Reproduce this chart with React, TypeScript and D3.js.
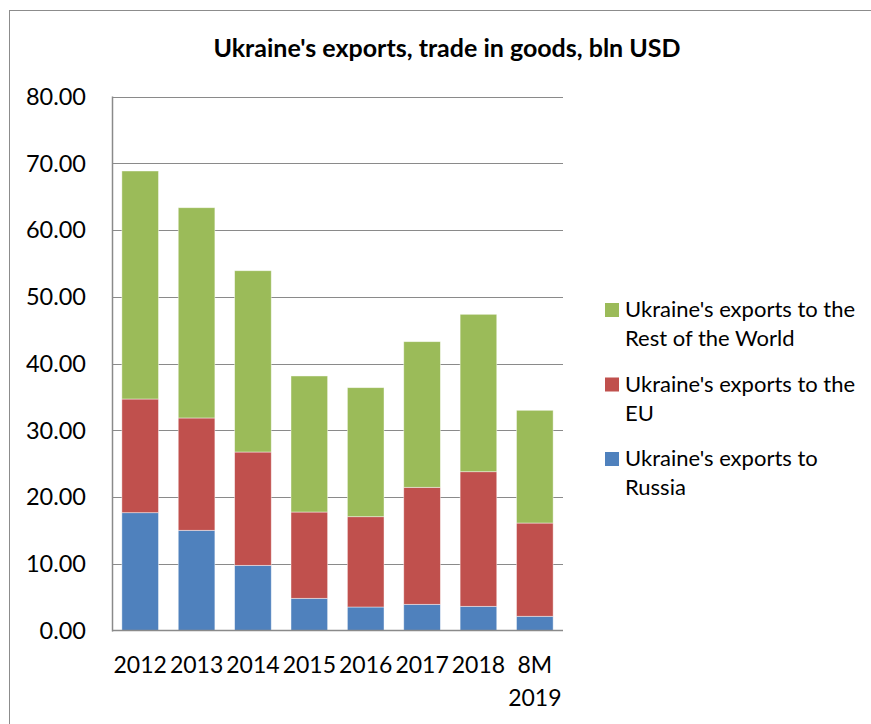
import React, { useEffect, useRef } from 'react';
import * as d3 from 'd3';

const categories = ['2012', '2013', '2014', '2015', '2016', '2017', '2018', '8M 2019'];
const russia = [17.65, 15.01, 9.76, 4.82, 3.52, 3.92, 3.62, 2.13];
const eu = [17.03, 16.83, 16.98, 12.93, 13.53, 17.53, 20.17, 13.97];
const restOfWorld = [34.16, 31.5, 27.16, 20.38, 19.33, 21.82, 23.58, 16.89];
const yTicks = [0, 10, 20, 30, 40, 50, 60, 70, 80];

const seriesKeys = ['russia', 'eu', 'row'];
const seriesColors: Record<string, string> = { russia: '#4F81BD', eu: '#C0504D', row: '#9BBB59' };
const legendItems = [
    { key: 'row', lines: ["Ukraine's exports to the", 'Rest of the World'] },
    { key: 'eu', lines: ["Ukraine's exports to the", 'EU'] },
    { key: 'russia', lines: ["Ukraine's exports to", 'Russia'] },
];

const FONT = 'Lato, "Open Sans", sans-serif';

const App: React.FC = () => {
    const svgRef = useRef<SVGSVGElement>(null);

    useEffect(() => {
        if (!svgRef.current) return;
        const width = 871;
        const height = 724;
        const svg = d3.select(svgRef.current);
        svg.selectAll('*').remove();

        // chart frame
        svg.append('rect')
            .attr('x', 9.5).attr('y', 10.5)
            .attr('width', 870).attr('height', 730)
            .attr('fill', 'white')
            .attr('stroke', '#8c8c8c');

        const plot = { left: 112, right: 563, top: 96.5, bottom: 630.5 };

        const x = d3.scaleBand<string>()
            .domain(categories)
            .range([plot.left, plot.right])
            .paddingInner(0.35)
            .paddingOuter(0.175);

        const y = d3.scaleLinear().domain([0, 80]).range([plot.bottom, plot.top]);

        // gridlines
        svg.append('g')
            .selectAll('line')
            .data(yTicks.filter(t => t > 0))
            .enter()
            .append('line')
            .attr('x1', plot.left).attr('x2', plot.right)
            .attr('y1', d => Math.round(y(d)) + 0.5).attr('y2', d => Math.round(y(d)) + 0.5)
            .attr('stroke', '#8a8a8a')
            .attr('stroke-width', 1.2);

        // stacked bars
        const table = categories.map((c, i) => ({ cat: c, russia: russia[i], eu: eu[i], row: restOfWorld[i] }));
        const stacked = d3.stack<any>().keys(seriesKeys)(table);

        svg.append('g')
            .selectAll('g')
            .data(stacked)
            .enter()
            .append('g')
            .attr('fill', d => seriesColors[d.key])
            .selectAll('rect')
            .data(d => d)
            .enter()
            .append('rect')
            .attr('x', (d: any) => x(d.data.cat) || 0)
            .attr('width', x.bandwidth())
            .attr('y', d => y(d[1]))
            .attr('height', d => y(d[0]) - y(d[1]))
            .attr('stroke', 'rgba(255,255,255,0.55)')
            .attr('stroke-width', 0.8);

        // axes lines
        svg.append('line')
            .attr('x1', plot.left + 0.5).attr('x2', plot.left + 0.5)
            .attr('y1', plot.top).attr('y2', plot.bottom + 1)
            .attr('stroke', '#8a8a8a').attr('stroke-width', 1.5);
        svg.append('line')
            .attr('x1', plot.left).attr('x2', plot.right)
            .attr('y1', plot.bottom).attr('y2', plot.bottom)
            .attr('stroke', '#8a8a8a').attr('stroke-width', 1.5);

        // y tick labels
        svg.append('g')
            .selectAll('text')
            .data(yTicks)
            .enter()
            .append('text')
            .attr('x', 86)
            .attr('y', d => y(d))
            .attr('dy', '0.36em')
            .attr('text-anchor', 'end')
            .style('font-family', FONT)
            .style('font-size', '23.5px')
            .attr('fill', '#000')
            .text(d => d3.format('.2f')(d));

        // x labels
        const xl = svg.append('g')
            .selectAll('text')
            .data(categories)
            .enter()
            .append('text')
            .attr('x', d => (x(d) || 0) + x.bandwidth() / 2)
            .attr('y', 673)
            .attr('text-anchor', 'middle')
            .style('font-family', FONT)
            .style('font-size', '23px')
            .attr('fill', '#000');
        xl.each(function (d) {
            const parts = d.split(' ');
            const t = d3.select(this);
            parts.forEach((p, i) => {
                t.append('tspan')
                    .attr('x', (x(d) || 0) + x.bandwidth() / 2)
                    .attr('dy', i === 0 ? 0 : 33)
                    .text(p);
            });
        });

        // title
        svg.append('text')
            .attr('x', 447)
            .attr('y', 57)
            .attr('text-anchor', 'middle')
            .style('font-family', FONT)
            .style('font-weight', 'bold')
            .style('font-size', '25px')
            .attr('fill', '#000')
            .text("Ukraine's exports, trade in goods, bln USD");

        // legend
        const legend = svg.append('g');
        legendItems.forEach((item, i) => {
            const baseY = 317 + i * 74.5;
            legend.append('rect')
                .attr('x', 605).attr('y', baseY - 14)
                .attr('width', 14).attr('height', 14)
                .attr('fill', seriesColors[item.key]);
            item.lines.forEach((line, j) => {
                legend.append('text')
                    .attr('x', 625)
                    .attr('y', baseY + j * 29)
                    .style('font-family', FONT)
                    .style('font-size', '22px')
                    .attr('fill', '#000')
                    .text(line);
            });
        });

        svg.attr('width', width).attr('height', height);
    }, []);

    return (
        <svg ref={svgRef} width={871} height={724}
            style={{ position: 'absolute', left: 0, top: 0, display: 'block' }} />
    );
};

export default App;
